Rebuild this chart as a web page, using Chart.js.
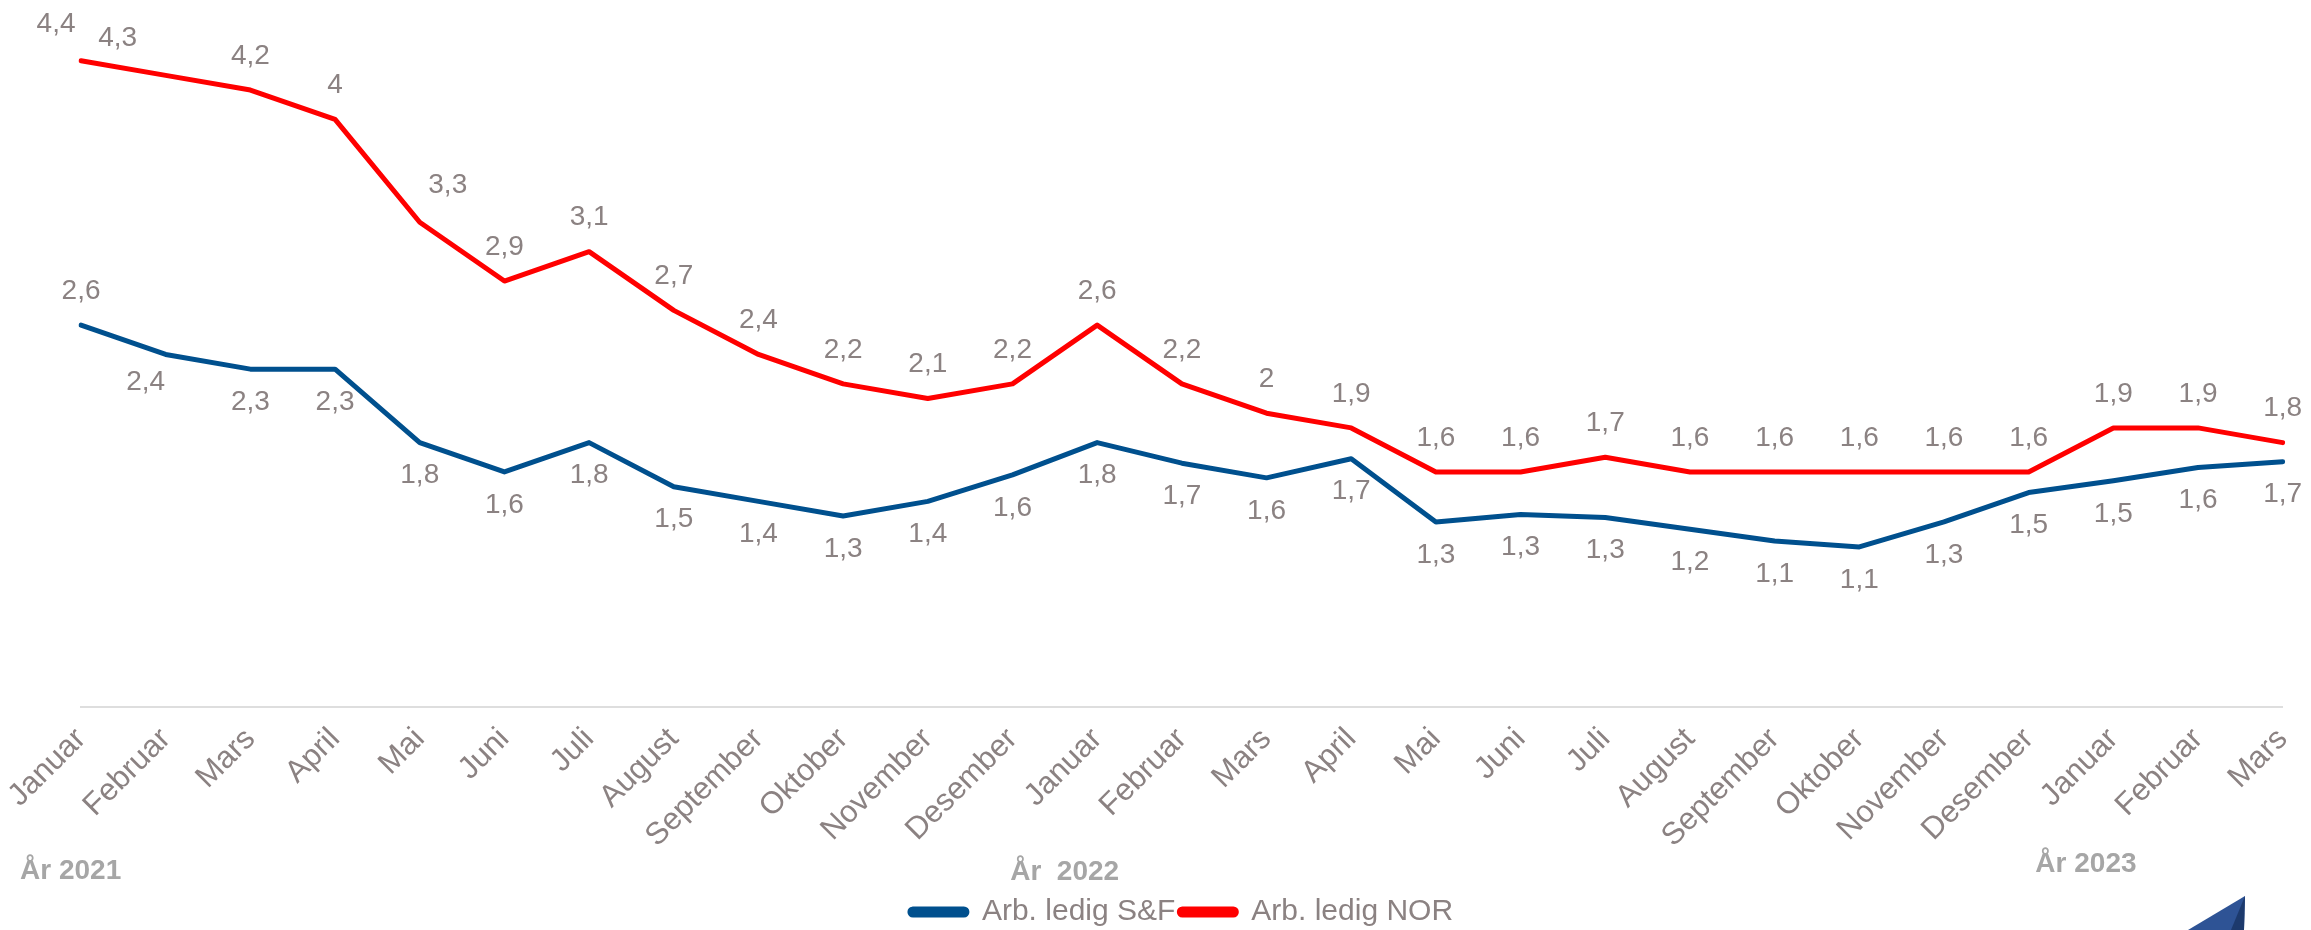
<!DOCTYPE html>
<html lang="no">
<head>
<meta charset="utf-8">
<title>Arbeidsledighet S&F og Noreg</title>
<script src="https://cdn.jsdelivr.net/npm/chart.js@4.4.1/dist/chart.umd.min.js"></script>
<style>
  html, body { margin: 0; padding: 0; background: #ffffff; overflow: hidden; }
  #wrap { position: relative; width: 2323px; height: 937px; }
</style>
</head>
<body>
<div id="wrap"><canvas id="ledigChart"></canvas></div>
<script>
// ---- Data ----
const months = [
  'Januar', 'Februar', 'Mars', 'April', 'Mai', 'Juni', 'Juli', 'August',
  'September', 'Oktober', 'November', 'Desember',
  'Januar', 'Februar', 'Mars', 'April', 'Mai', 'Juni', 'Juli', 'August',
  'September', 'Oktober', 'November', 'Desember',
  'Januar', 'Februar', 'Mars'
];
const yearLabels = ['År 2021', 'År  2022', 'År 2023'];
const yearStartIdx = [0, 12, 24];

const ledigSF = [
  2.6, 2.4, 2.3, 2.3, 1.8, 1.6, 1.8, 1.5, 1.4, 1.3, 1.4, 1.58,
  1.8, 1.66, 1.56, 1.69, 1.26, 1.31, 1.29, 1.21, 1.13, 1.09, 1.26, 1.46,
  1.54, 1.63, 1.67
];
const ledigNOR = [
  4.4, 4.3, 4.2, 4.0, 3.3, 2.9, 3.1, 2.7, 2.4, 2.2, 2.1, 2.2,
  2.6, 2.2, 2.0, 1.9, 1.6, 1.6, 1.7, 1.6, 1.6, 1.6, 1.6, 1.6,
  1.9, 1.9, 1.8
];

// ---- Farger / fontar ----
const C_BLUE = '#00508e';
const C_RED = '#ff0000';
const C_TEXT = '#8b8282';
const C_YEAR = '#a6a6a6';
const FONT = 'Arial, "Liberation Sans", sans-serif';

// Tal med komma, utan ",0"
function fmt(v) {
  return String(Number(v.toFixed(1))).replace('.', ',');
}

// Dataetikettar: raud over linja, blå under (med nokre handflytta unntak)
const labelTweaks = {
  0: { 0: [0, -34], 1: [-20, 28] },
  1: { 0: [-25, -36], 1: [-48, -37], 4: [28, -37] }
};

const valueLabels = {
  id: 'valueLabels',
  afterDatasetsDraw(chart) {
    const ctx = chart.ctx;
    ctx.save();
    ctx.font = '28px ' + FONT;
    ctx.fillStyle = C_TEXT;
    ctx.textAlign = 'center';
    ctx.textBaseline = 'middle';
    chart.data.datasets.forEach((ds, di) => {
      const meta = chart.getDatasetMeta(di);
      meta.data.forEach((pt, i) => {
        let off = di === 0 ? [0, 33] : [0, -34];
        if (labelTweaks[di][i]) off = labelTweaks[di][i];
        ctx.fillText(fmt(ds.data[i]), pt.x + off[0], pt.y + off[1]);
      });
    });
    ctx.restore();
  }
};

// Årstal under månadene + logo-hjørnet nede til høgre
const yearText = {
  id: 'yearText',
  afterDraw(chart) {
    const ctx = chart.ctx;
    const xs = chart.scales.x;
    const shift = [[-61, 879], [-87, 880], [-78, 872]];
    ctx.save();
    ctx.font = 'bold 28px ' + FONT;
    ctx.fillStyle = C_YEAR;
    ctx.textAlign = 'left';
    ctx.textBaseline = 'alphabetic';
    yearLabels.forEach((t, k) => {
      const x = xs.getPixelForValue(yearStartIdx[k]) + shift[k][0];
      ctx.fillText(t, x, shift[k][1]);
    });

    // bit av logoen som stikk inn nede til høgre
    ctx.fillStyle = '#2e5395';
    ctx.beginPath();
    ctx.moveTo(2245, 896);
    ctx.lineTo(2188, 930);
    ctx.lineTo(2244, 930);
    ctx.closePath();
    ctx.fill();
    ctx.fillStyle = '#1d3a6d';
    ctx.beginPath();
    ctx.moveTo(2245, 896);
    ctx.lineTo(2231, 930);
    ctx.lineTo(2244, 930);
    ctx.closePath();
    ctx.fill();
    ctx.restore();
  }
};

const ctx = document.getElementById('ledigChart').getContext('2d');
new Chart(ctx, {
  type: 'line',
  data: {
    labels: months,
    datasets: [
      {
        label: 'Arb. ledig S&F',
        data: ledigSF,
        borderColor: C_BLUE,
        backgroundColor: C_BLUE,
        borderWidth: 5,
        pointRadius: 0,
        borderCapStyle: 'round',
        borderJoinStyle: 'round',
        tension: 0
      },
      {
        label: 'Arb. ledig NOR',
        data: ledigNOR,
        borderColor: C_RED,
        backgroundColor: C_RED,
        borderWidth: 5,
        pointRadius: 0,
        borderCapStyle: 'round',
        borderJoinStyle: 'round',
        tension: 0
      }
    ]
  },
  options: {
    responsive: true,
    maintainAspectRatio: false,
    animation: false,
    layout: { padding: { top: 46, left: 41, right: 1, bottom: 0 } },
    plugins: {
      legend: {
        position: 'bottom',
        labels: {
          color: C_TEXT,
          font: { family: FONT, size: 30, lineHeight: 1 },
          boxWidth: 57,
          boxHeight: 6,
          padding: 4,
          useBorderRadius: true,
          borderRadius: 3
        }
      },
      tooltip: { enabled: false }
    },
    scales: {
      x: {
        grid: { display: false, drawTicks: false },
        border: { display: true, color: '#dedede', width: 2 },
        ticks: {
          color: C_TEXT,
          font: { family: FONT, size: 31 },
          minRotation: 45,
          maxRotation: 45,
          autoSkip: false,
          padding: 14
        },
        afterFit: (scale) => { scale.height = 186; }
      },
      y: {
        display: false,
        min: 0,
        max: 4.5
      }
    }
  },
  plugins: [valueLabels, yearText]
});
</script>
</body>
</html>
